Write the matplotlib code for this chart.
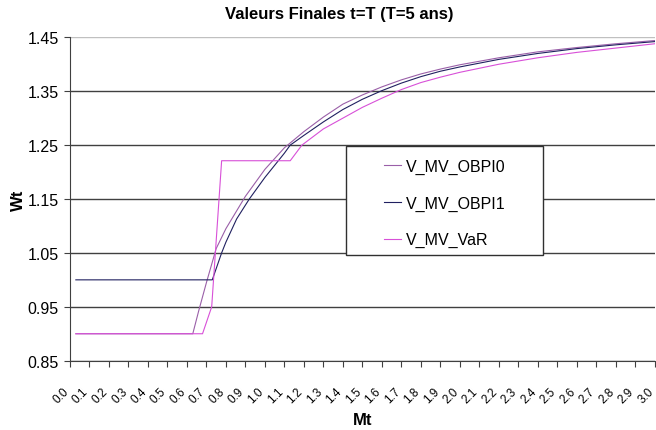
import numpy as np
import matplotlib
matplotlib.use("Agg")
import matplotlib.pyplot as plt
from matplotlib.patches import Rectangle
from matplotlib.transforms import ScaledTranslation

plt.rcParams['font.family'] = ['Liberation Sans', 'DejaVu Sans']

# values
mt_obpi0 = [0.03, 0.63, 0.66, 0.70, 0.75, 0.80, 0.85, 0.90, 1.00, 1.10, 1.20, 1.30, 1.40,
            1.50, 1.60, 1.70, 1.80, 1.90, 2.00, 2.20, 2.40, 2.60, 2.80, 3.00]
w_obpi0 = [0.90, 0.90, 0.942, 0.995, 1.058, 1.095, 1.125, 1.155, 1.205, 1.245, 1.275, 1.302, 1.326,
           1.343, 1.358, 1.371, 1.382, 1.391, 1.399, 1.412, 1.423, 1.431, 1.438, 1.444]

mt_obpi1 = [0.03, 0.73, 0.778, 0.80, 0.855, 0.92, 1.00, 1.10, 1.13, 1.20, 1.30, 1.40,
            1.50, 1.60, 1.70, 1.80, 1.90, 2.00, 2.20, 2.40, 2.60, 2.80, 3.00]
w_obpi1 = [1.00, 1.00, 1.05, 1.07, 1.113, 1.15, 1.19, 1.235, 1.25, 1.268, 1.293, 1.316,
           1.335, 1.351, 1.365, 1.377, 1.387, 1.395, 1.409, 1.420, 1.429, 1.436, 1.442]

mt_var = [0.03, 0.68, 0.727, 0.778, 1.13, 1.19, 1.30, 1.40, 1.50, 1.60, 1.70,
          1.80, 1.90, 2.00, 2.20, 2.40, 2.60, 2.80, 3.00]
w_var = [0.90, 0.90, 0.95, 1.221, 1.221, 1.25, 1.28, 1.300, 1.32, 1.337, 1.353,
         1.366, 1.376, 1.385, 1.400, 1.412, 1.422, 1.430, 1.438]

x_ticks = [0.0, 0.1, 0.2, 0.3, 0.4, 0.5, 0.6, 0.7, 0.8, 0.9, 1.0, 1.1, 1.2, 1.3, 1.4, 1.5,
           1.6, 1.7, 1.8, 1.9, 2.0, 2.1, 2.2, 2.3, 2.4, 2.5, 2.6, 2.7, 2.8, 2.9, 3.0]
y_ticks = [0.85, 0.95, 1.05, 1.15, 1.25, 1.35, 1.45]

W, H = 656, 431
fig = plt.figure(figsize=(W/100, H/100), dpi=100)
ax = fig.add_axes([70/W, 1 - 361.7/H, 584.7/W, 323.4/H])

ax.plot(mt_obpi0, w_obpi0, color='#9a5fa8', lw=0.8, label='V_MV_OBPI0')
ax.plot(mt_obpi1, w_obpi1, color='#202060', lw=0.8, label='V_MV_OBPI1')
ax.plot(mt_var, w_var, color='#d850d8', lw=0.8, label='V_MV_VaR')

ax.set_xlim(0, 3.0)
ax.set_ylim(0.85, 1.45)
ax.set_yticks(y_ticks)
ax.set_yticklabels([f"{v:.2f}" for v in y_ticks], fontsize=11.5)
ax.set_xticks(x_ticks)
ax.set_xticklabels([f"{v:.1f}" for v in x_ticks], fontsize=8.5, rotation=45,
                   ha='right', va='center', rotation_mode='anchor')
ax.tick_params(axis='x', length=4, pad=16.5, color='#404040')
ax.tick_params(axis='y', length=4, pad=4, color='#404040')
shift = ScaledTranslation(-0.03, 0, fig.dpi_scale_trans)
for lab in ax.get_xticklabels():
    lab.set_transform(lab.get_transform() + shift)

ax.yaxis.grid(True, color='#404040', lw=1)
ax.get_ygridlines()[-1].set_color('#c0c0c0')
ax.set_axisbelow(True)
for s in ['top', 'right']:
    ax.spines[s].set_visible(False)
for s in ['left', 'bottom']:
    ax.spines[s].set_color('#404040')

ax.set_ylabel('Wt', fontsize=12, fontweight='bold', labelpad=1)
ax.set_xlabel('Mt', fontsize=12, fontweight='bold', labelpad=5)
fig.text(339/W, 1 - 15/H, 'Valeurs Finales t=T (T=5 ans)', fontsize=12,
         fontweight='bold', ha='center', va='center')

# legend box
ax.add_patch(Rectangle((345.7/W, 1 - 256/H), 197.6/W, 109.3/H,
                       transform=fig.transFigure, facecolor='white',
                       edgecolor='#303030', lw=1, zorder=5, clip_on=False))
leg = ax.legend(loc='upper left', bbox_to_anchor=(384/W, 1 - 159.5/H),
                bbox_transform=fig.transFigure, fontsize=11.5, frameon=False,
                handlelength=1.05, handletextpad=0.3, labelspacing=1.36,
                borderpad=0, borderaxespad=0)
leg.set_zorder(6)

fig.savefig('out.png', dpi=100)
